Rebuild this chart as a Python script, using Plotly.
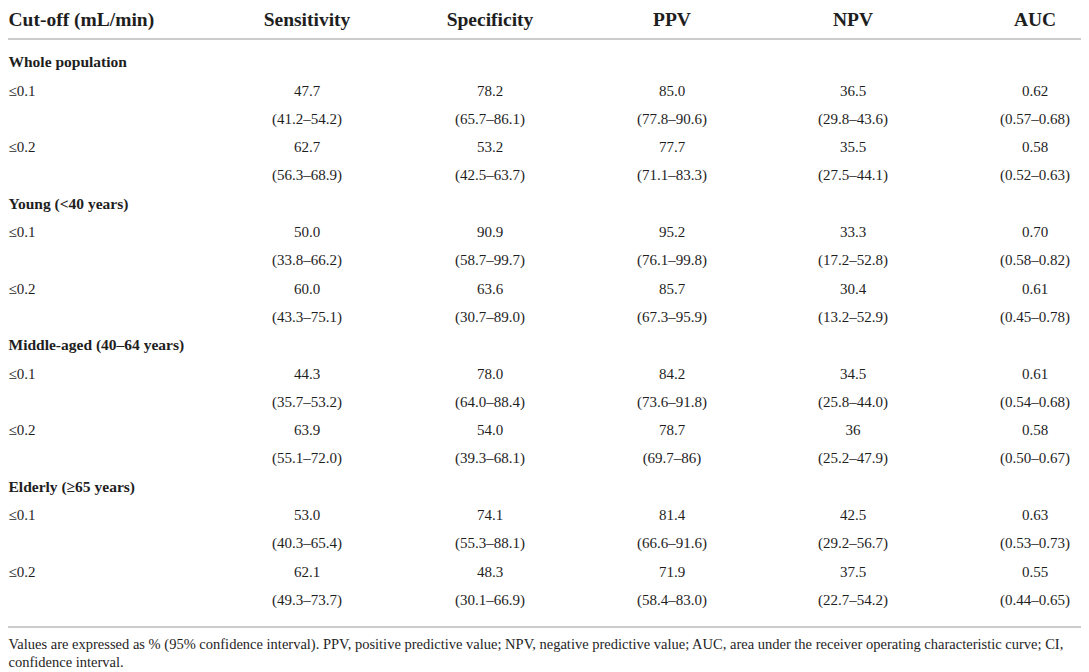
import plotly.graph_objects as go

# ---- table data ----
columns = ["Cut-off (mL/min)", "Sensitivity", "Specificity", "PPV", "NPV", "AUC"]
groups = ["Whole population", "Young (<40 years)", "Middle-aged (40–64 years)", "Elderly (≥65 years)"]
cutoffs = ["≤0.1", "≤0.2"]

# one entry per (group, cut-off) row, in order
sensitivity = ["47.7", "62.7", "50.0", "60.0", "44.3", "63.9", "53.0", "62.1"]
sensitivity_ci = ["41.2–54.2", "56.3–68.9", "33.8–66.2", "43.3–75.1",
                  "35.7–53.2", "55.1–72.0", "40.3–65.4", "49.3–73.7"]
specificity = ["78.2", "53.2", "90.9", "63.6", "78.0", "54.0", "74.1", "48.3"]
specificity_ci = ["65.7–86.1", "42.5–63.7", "58.7–99.7", "30.7–89.0",
                  "64.0–88.4", "39.3–68.1", "55.3–88.1", "30.1–66.9"]
ppv = ["85.0", "77.7", "95.2", "85.7", "84.2", "78.7", "81.4", "71.9"]
ppv_ci = ["77.8–90.6", "71.1–83.3", "76.1–99.8", "67.3–95.9",
          "73.6–91.8", "69.7–86", "66.6–91.6", "58.4–83.0"]
npv = ["36.5", "35.5", "33.3", "30.4", "34.5", "36", "42.5", "37.5"]
npv_ci = ["29.8–43.6", "27.5–44.1", "17.2–52.8", "13.2–52.9",
          "25.8–44.0", "25.2–47.9", "29.2–56.7", "22.7–54.2"]
auc = ["0.62", "0.58", "0.70", "0.61", "0.61", "0.58", "0.63", "0.55"]
auc_ci = ["0.57–0.68", "0.52–0.63", "0.58–0.82", "0.45–0.78",
          "0.54–0.68", "0.50–0.67", "0.53–0.73", "0.44–0.65"]

footnote = [
    "Values are expressed as % (95% confidence interval). PPV, positive predictive value; NPV, negative predictive value; AUC, area under the receiver operating characteristic curve; CI,",
    "confidence interval.",
]

# ---- layout (page pixel units; the page body has an 8px margin) ----
W, H = 1089, 672
PAD = 8
col_x = [PAD + 0.5, 307, 490, 672, 853, 1035]
header_y = 21
top_rule_y = 39
first_line_y = 63.5
line_step = 28.3
bottom_rule_y = 627
foot_y = [645, 663]
FONT = "Liberation Serif"
INK = "#1e1e1e"
RULE = "#cccccc"

metrics = [(sensitivity, sensitivity_ci), (specificity, specificity_ci),
           (ppv, ppv_ci), (npv, npv_ci), (auc, auc_ci)]

group_x, group_y, group_t = [], [], []
cut_x, cut_y, cut_t = [], [], []
val_x, val_y, val_t = [], [], []

line = 0
row = 0
for g in groups:
    group_x.append(col_x[0])
    group_y.append(first_line_y + line * line_step)
    group_t.append(g)
    line += 1
    for c in cutoffs:
        y_val = first_line_y + line * line_step
        y_ci = first_line_y + (line + 1) * line_step
        cut_x.append(col_x[0])
        cut_y.append(y_val)
        cut_t.append(c)
        for j, (vals, cis) in enumerate(metrics):
            val_x += [col_x[j + 1], col_x[j + 1]]
            val_y += [y_val, y_ci]
            val_t += [vals[row], "(" + cis[row] + ")"]
        row += 1
        line += 2

fig = go.Figure()

# header
fig.add_trace(go.Scatter(
    x=[col_x[0]], y=[header_y], text=[columns[0]], mode="text",
    textposition="middle right", cliponaxis=False, hoverinfo="skip",
    textfont=dict(family=FONT, size=19.5, color=INK, weight="bold")))
fig.add_trace(go.Scatter(
    x=col_x[1:], y=[header_y] * 5, text=columns[1:], mode="text",
    textposition="middle center", cliponaxis=False, hoverinfo="skip",
    textfont=dict(family=FONT, size=19.5, color=INK, weight="bold")))

# group labels
fig.add_trace(go.Scatter(
    x=group_x, y=group_y, text=group_t, mode="text",
    textposition="middle right", cliponaxis=False, hoverinfo="skip",
    textfont=dict(family=FONT, size=15.5, color=INK, weight="bold")))

# cut-off labels
fig.add_trace(go.Scatter(
    x=cut_x, y=cut_y, text=cut_t, mode="text",
    textposition="middle right", cliponaxis=False, hoverinfo="skip",
    textfont=dict(family=FONT, size=15, color=INK)))

# values + CIs
fig.add_trace(go.Scatter(
    x=val_x, y=val_y, text=val_t, mode="text",
    textposition="middle center", cliponaxis=False, hoverinfo="skip",
    textfont=dict(family=FONT, size=15, color=INK)))

# footnote
fig.add_trace(go.Scatter(
    x=[col_x[0]] * 2, y=foot_y, text=footnote, mode="text",
    textposition="middle right", cliponaxis=False, hoverinfo="skip",
    textfont=dict(family=FONT, size=14.5, color=INK)))

for yy in (top_rule_y, bottom_rule_y):
    fig.add_shape(type="line", x0=PAD, x1=W - 2, y0=yy, y1=yy,
                  xref="x", yref="y", line=dict(color=RULE, width=2))

fig.update_layout(
    width=W - PAD, height=H - PAD,
    margin=dict(l=0, r=0, t=0, b=0),
    paper_bgcolor="white", plot_bgcolor="white",
    showlegend=False,
    xaxis=dict(range=[PAD, W], visible=False, fixedrange=True),
    yaxis=dict(range=[H, PAD], visible=False, fixedrange=True),
)

fig.write_html("out.html")
